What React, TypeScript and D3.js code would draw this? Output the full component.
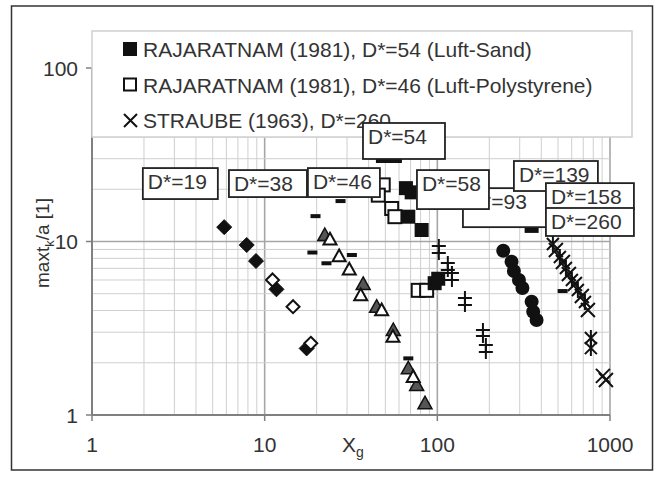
import * as d3 from 'd3';

// x = X_g, y = maxt_k/a
const filledDiamonds = [
  [5.83, 12.1], [7.87, 9.55], [8.91, 7.72], [11.7, 5.3], [17.5, 2.42],
];
const openDiamonds = [
  [11.1, 6.0], [14.6, 4.21], [18.5, 2.59],
];
const grayTriangles = [
  [22.3, 10.9], [37.2, 5.69], [44.5, 4.21], [55.6, 3.09], [67.9, 1.86], [75.9, 1.49], [84.8, 1.17],
];
const openTriangles = [
  [23.9, 10.3], [27.0, 8.25], [30.9, 6.92], [36.0, 4.92], [47.6, 4.03], [55.3, 2.83], [72.5, 1.66],
];
const dashes = [
  [27.5, 17.1], [19.7, 14.0], [18.9, 8.64], [22.8, 7.49], [32.0, 8.36], [67.9, 2.12], [531.6, 5.18],
];
// RAJARATNAM (1981), D*=54 (Luft-Sand)
const sandSquares = [
  [48.4, 31.1], [56.8, 31.1], [65.8, 20.3], [71.0, 19.2], [67.9, 13.9], [81.1, 11.65],
  [96.5, 5.75], [101.2, 6.1], [351.6, 12.3],
];
// RAJARATNAM (1981), D*=46 (Luft-Polystyrene)
const polySquares = [
  [48.6, 21.2], [45.5, 18.5], [54.4, 15.5], [56.8, 13.9], [77.5, 5.23], [86.7, 5.23],
];
const plusPoints = [
  [102, 9.42], [102, 8.58], [115, 7.52], [115, 6.85], [121.5, 6.58], [121.5, 5.99],
  [144.5, 4.72], [144.5, 4.3], [183.7, 3.09], [183.7, 2.85], [191, 2.53], [191, 2.31],
];
const circles = [
  [240.8, 8.85], [269, 7.65], [277.6, 6.76], [296.9, 6.0], [311, 5.4], [351.6, 4.5], [359, 3.94], [375.6, 3.53],
];
const stars = [
  [467, 9.67], [512.6, 8.14], [555.5, 7.03], [601.5, 6.0], [651.5, 5.25], [716, 4.48], [775, 2.78], [775, 2.43],
];
// STRAUBE (1963), D*=260
const crosses = [
  [486, 8.93], [533.6, 7.62], [578, 6.5], [626, 5.69], [687, 4.85], [745, 4.03], [910, 1.68], [947, 1.59],
];

const xTickValues = [1, 10, 100, 1000];
const yTickValues = [1, 10, 100];

const legendItems = [
  'RAJARATNAM (1981), D*=54 (Luft-Sand)',
  'RAJARATNAM (1981), D*=46 (Luft-Polystyrene)',
  'STRAUBE (1963), D*=260',
];

// annotation boxes, anchored (top-left) in data units
const boxLabels = ['D*=93', 'D*=139', 'D*=19', 'D*=38', 'D*=46', 'D*=58', 'D*=158', 'D*=260', 'D*=54'];
const boxX = [140.7, 277.6, 1.97, 6.21, 17.8, 76.2, 425.5, 425.5, 37.1];
const boxY = [20.3, 29.1, 26.5, 25.8, 26.5, 25.8, 21.7, 15.6, 48.2];
const boxW = [100, 84, 75, 78, 72, 72, 88, 88, 82];
const boxH = [39, 30, 31, 27, 29, 39, 26, 28, 36];

const W = 659;
const H = 477;
const FONT = '"Liberation Sans", Arial, sans-serif';

export default function App() {
  const x = d3.scaleLog().domain([1, 1000]).range([92, 610]);
  const y = d3.scaleLog().domain([1, 100]).range([415, 68]);

  const gridX = x.ticks();
  const gridY = y.ticks();
  const isMajor = (v: number) => Math.abs(Math.log10(v) - Math.round(Math.log10(v))) < 1e-9;

  const diamond = (s: number) => `M0,${-s}L${s},0L0,${s}L${-s},0Z`;
  const tri = (s: number) => `M0,${-s}L${s},${s * 0.8}L${-s},${s * 0.8}Z`;

  return (
    <svg width={W} height={H} style={{ position: 'absolute', left: 0, top: 0, background: '#fff' }} fontFamily={FONT}>
      <rect x={11.5} y={6} width={641} height={464} fill="#fff" stroke="#333" strokeWidth={1.5} />

      {/* grid */}
      {gridX.map((v, i) => (
        <line key={'gx' + i} x1={x(v)} x2={x(v)} y1={y(100)} y2={y(1)}
          stroke={isMajor(v) ? '#a6a6a6' : '#cfcfcf'} strokeWidth={isMajor(v) ? 1.6 : 1} />
      ))}
      {gridY.map((v, i) => (
        <line key={'gy' + i} x1={x(1)} x2={x(1000)} y1={y(v)} y2={y(v)}
          stroke={isMajor(v) ? '#a6a6a6' : '#cfcfcf'} strokeWidth={isMajor(v) ? 1.6 : 1} />
      ))}

      {/* axes */}
      <line x1={x(1)} x2={x(1000)} y1={y(1)} y2={y(1)} stroke="#808080" strokeWidth={2} />
      <line x1={x(1)} x2={x(1)} y1={y(100)} y2={y(1)} stroke="#808080" strokeWidth={2} />
      {xTickValues.map((v) => (
        <g key={'xt' + v}>
          <line x1={x(v)} x2={x(v)} y1={y(1)} y2={y(1) + 6} stroke="#808080" strokeWidth={1.5} />
          <text x={x(v)} y={452} textAnchor="middle" fontSize={21} fill="#333">{v}</text>
        </g>
      ))}
      {yTickValues.map((v) => (
        <g key={'yt' + v}>
          <line x1={x(1) - 6} x2={x(1)} y1={y(v)} y2={y(v)} stroke="#808080" strokeWidth={1.5} />
          <text x={78} y={y(v) + 7.5} textAnchor="end" fontSize={21} fill="#333">{v}</text>
        </g>
      ))}
      <text x={342} y={452} fontSize={21} fill="#333">X<tspan fontSize={14} dy={5}>g</tspan></text>
      <text transform="translate(49,288) rotate(-90)" fontSize={19} fill="#333">
        maxt<tspan fontSize={13} dy={5}>k</tspan><tspan dy={-5}>/a [1]</tspan>
      </text>

      {/* data */}
      {filledDiamonds.map((d, i) => (
        <path key={'fd' + i} d={diamond(7.5)} transform={`translate(${x(d[0])},${y(d[1])})`} fill="#111" stroke="#111" />
      ))}
      {openDiamonds.map((d, i) => (
        <path key={'od' + i} d={diamond(6.5)} transform={`translate(${x(d[0])},${y(d[1])})`} fill="#fff" stroke="#111" strokeWidth={2} />
      ))}
      {dashes.map((d, i) => (
        <rect key={'ds' + i} x={x(d[0]) - 5} y={y(d[1]) - 2} width={10} height={4} fill="#111" />
      ))}
      {grayTriangles.map((d, i) => (
        <path key={'gt' + i} d={tri(7)} transform={`translate(${x(d[0])},${y(d[1])})`} fill="#555" stroke="#111" strokeWidth={1.5} />
      ))}
      {openTriangles.map((d, i) => (
        <path key={'ot' + i} d={tri(6.5)} transform={`translate(${x(d[0])},${y(d[1])})`} fill="#fff" stroke="#111" strokeWidth={2} />
      ))}
      {polySquares.map((d, i) => (
        <rect key={'ps' + i} x={x(d[0]) - 6.5} y={y(d[1]) - 6.5} width={13} height={13} fill="#fff" stroke="#111" strokeWidth={2} />
      ))}
      {sandSquares.map((d, i) => (
        <rect key={'ss' + i} x={x(d[0]) - 7} y={y(d[1]) - 7} width={14} height={14} fill="#111" />
      ))}
      {plusPoints.map((d, i) => (
        <path key={'pl' + i} d="M-7,0H7M0,-7V7" transform={`translate(${x(d[0])},${y(d[1])})`} stroke="#111" strokeWidth={2} fill="none" />
      ))}
      {circles.map((d, i) => (
        <circle key={'ci' + i} cx={x(d[0])} cy={y(d[1])} r={7} fill="#111" />
      ))}
      {stars.map((d, i) => (
        <path key={'st' + i} d="M-6,-6L6,6M-6,6L6,-6M0,-8V8" transform={`translate(${x(d[0])},${y(d[1])})`} stroke="#111" strokeWidth={2} fill="none" />
      ))}
      {crosses.map((d, i) => (
        <path key={'cr' + i} d="M-7,-7L7,7M-7,7L7,-7" transform={`translate(${x(d[0])},${y(d[1])})`} stroke="#111" strokeWidth={2} fill="none" />
      ))}

      {/* legend */}
      <rect x={92} y={31} width={540} height={106} fill="#fff" stroke="#cfcfcf" strokeWidth={1.5} />
      {legendItems.map((t, i) => {
        const by = 57 + i * 35.5;
        return (
          <g key={'lg' + i}>
            {i === 0 && <rect x={123} y={by - 15} width={14} height={14} fill="#111" />}
            {i === 1 && <rect x={124} y={by - 14} width={12} height={12} fill="#fff" stroke="#111" strokeWidth={2} />}
            {i === 2 && <path d={`M124,${by - 14}L137,${by - 1}M124,${by - 1}L137,${by - 14}`} stroke="#111" strokeWidth={2} />}
            <text x={143} y={by} fontSize={21} fill="#333">{t}</text>
          </g>
        );
      })}

      {/* D* annotation boxes */}
      {boxLabels.map((t, i) => (
        <g key={'bx' + i} transform={`translate(${x(boxX[i])},${y(boxY[i])})`}>
          <rect width={boxW[i]} height={boxH[i]} fill="#fff" stroke="#222" strokeWidth={1.8} />
          <text x={5} y={21} fontSize={21} fill="#333">{t}</text>
        </g>
      ))}
    </svg>
  );
}
